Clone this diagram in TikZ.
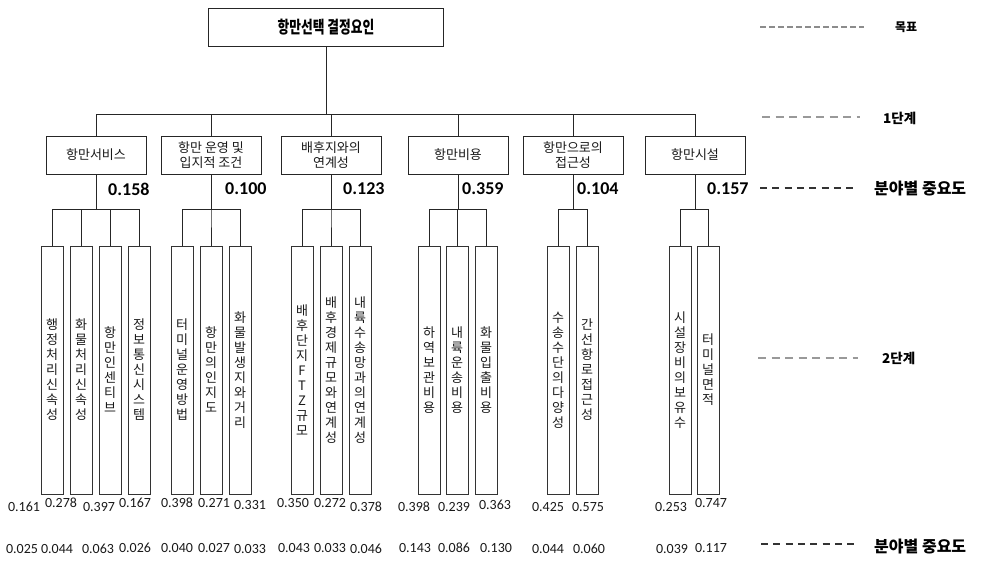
\documentclass[tikz,border=0pt]{standalone}
\usepackage{fontspec}
\usepackage{graphicx}
\setmainfont{Noto Sans CJK KR}
\newfontfamily\kr{Noto Sans CJK KR}
\newfontfamily\numf{Carlito}
\begin{document}
\begin{tikzpicture}[x=1pt,y=-1pt,
 conn/.style={draw=black!85, line width=0.9pt},
 topbox/.style={draw=black!85,line width=0.9pt, minimum width=235pt, minimum height=38pt, inner sep=0pt, font=\kr\bfseries\fontsize{17}{20}\selectfont},
 lvbox/.style={draw=black!85,line width=0.9pt,minimum width=100pt,minimum height=38pt,inner sep=0pt,align=center,font=\kr\fontsize{13}{15}\selectfont,text=black!90},
 subbox/.style={draw=black!80,line width=0.9pt,minimum width=22pt,minimum height=248pt,inner sep=0pt,align=center,font=\kr\fontsize{13}{15}\selectfont,text=black!90},
 wt/.style={anchor=west,inner sep=0pt,font=\numf\bfseries\fontsize{18}{20}\selectfont},
 nm/.style={inner sep=0pt,font=\numf\fontsize{14}{15}\selectfont,text=black!90},
 lab/.style={anchor=west,inner sep=0pt,font=\kr\bfseries\fontsize{13.5}{15}\selectfont},
 biglab/.style={anchor=west,inner sep=0pt,font=\kr\bfseries\fontsize{16}{18}\selectfont},
 gdashfine/.style={draw=black!45,line width=1.2pt,dash pattern=on 6pt off 3pt},
 gdash/.style={draw=black!40,line width=1.2pt,dash pattern=on 8pt off 5.5pt},
 ddash/.style={draw=black!80,line width=1.2pt,dash pattern=on 7pt off 5.3pt}]

\path[use as bounding box] (0,0) rectangle (989,562);

% goal
\node[topbox] (goal) at (326,27) {\scalebox{0.75}[1]{항만선택 결정요인}};

% level 1
\node[lvbox] (A) at (96,155) {항만서비스};
\node[lvbox] (B) at (211,155) {항만 운영 및\\입지적 조건};
\node[lvbox] (C) at (331,155) {배후지와의\\연계성};
\node[lvbox] (D) at (458,155) {항만비용};
\node[lvbox] (E) at (573,155) {항만으로의\\접근성};
\node[lvbox] (F) at (695,155) {항만시설};

\foreach \n in {A,B,C,D,E,F}{
  \draw[conn] (goal.south) -- ++(0,68) -| (\n.north);
}

% weights
\node[wt] (wA) at (108,189) {0.158};
\node[wt] (wB) at (225,189) {0.100};
\node[wt] (wC) at (343,189) {0.123};
\node[wt] (wD) at (462,189) {0.359};
\node[wt] (wE) at (577,189) {0.104};
\node[wt] (wF) at (707,189) {0.157};

% level 2
\node[subbox] (a1) at (52,370) {행\\정\\처\\리\\신\\속\\성};
\node[subbox] (a2) at (81,370) {화\\물\\처\\리\\신\\속\\성};
\node[subbox] (a3) at (110,370) {항\\만\\인\\센\\티\\브};
\node[subbox] (a4) at (139,370) {정\\보\\통\\신\\시\\스\\템};
\node[subbox] (b1) at (182,370) {터\\미\\널\\운\\영\\방\\법};
\node[subbox] (b2) at (211,370) {항\\만\\의\\인\\지\\도};
\node[subbox] (b3) at (240,370) {화\\물\\발\\생\\지\\와\\거\\리};
\node[subbox] (c1) at (302,370) {배\\후\\단\\지\\F\\T\\Z\\규\\모};
\node[subbox] (c2) at (331,370) {배\\후\\경\\제\\규\\모\\와\\연\\계\\성};
\node[subbox] (c3) at (360,370) {내\\륙\\수\\송\\망\\과\\의\\연\\계\\성};
\node[subbox] (d1) at (429,370) {하\\역\\보\\관\\비\\용};
\node[subbox] (d2) at (457,370) {내\\륙\\운\\송\\비\\용};
\node[subbox] (d3) at (486,370) {화\\물\\입\\출\\비\\용};
\node[subbox] (e1) at (558,370) {수\\송\\수\\단\\의\\다\\양\\성};
\node[subbox] (e2) at (587,370) {간\\선\\항\\로\\접\\근\\성};
\node[subbox] (f1) at (680,370) {시\\설\\장\\비\\의\\보\\유\\수};
\node[subbox] (f2) at (708,370) {터\\미\\널\\면\\적};

\foreach \p/\c in {A/a1,A/a2,A/a3,A/a4,B/b1,B/b2,B/b3,C/c1,C/c2,C/c3,D/d1,D/d2,D/d3,E/e1,E/e2,F/f1,F/f2}{
  \draw[conn] (\p.south) -- ++(0,35) -| (\c.north);
}

% local weights
\node[nm] (pa1) at (24,507) {0.161};
\node[nm] (pa2) at (61,503) {0.278};
\node[nm] (pa3) at (99,507) {0.397};
\node[nm] (pa4) at (135,503) {0.167};
\node[nm] (pb1) at (177,503) {0.398};
\node[nm] (pb2) at (214,503) {0.271};
\node[nm] (pb3) at (250,505) {0.331};
\node[nm] (pc1) at (293,503) {0.350};
\node[nm] (pc2) at (330,503) {0.272};
\node[nm] (pc3) at (366,507) {0.378};
\node[nm] (pd1) at (414,507) {0.398};
\node[nm] (pd2) at (454,507) {0.239};
\node[nm] (pd3) at (495,505) {0.363};
\node[nm] (pe1) at (548,507) {0.425};
\node[nm] (pe2) at (588,507) {0.575};
\node[nm] (pf1) at (671,507) {0.253};
\node[nm] (pf2) at (711,503) {0.747};

% global weights
\node[nm] (ga1) at (22,549) {0.025};
\node[nm] (ga2) at (57,549) {0.044};
\node[nm] (ga3) at (98,549) {0.063};
\node[nm] (ga4) at (135,548) {0.026};
\node[nm] (gb1) at (177,548) {0.040};
\node[nm] (gb2) at (214,548) {0.027};
\node[nm] (gb3) at (250,549) {0.033};
\node[nm] (gc1) at (294,548) {0.043};
\node[nm] (gc2) at (330,548) {0.033};
\node[nm] (gc3) at (366,549) {0.046};
\node[nm] (gd1) at (415,548) {0.143};
\node[nm] (gd2) at (454,548) {0.086};
\node[nm] (gd3) at (496,548) {0.130};
\node[nm] (ge1) at (548,549) {0.044};
\node[nm] (ge2) at (589,549) {0.060};
\node[nm] (gf1) at (672,549) {0.039};
\node[nm] (gf2) at (711,548) {0.117};

% right side labels
\node[lab,font=\kr\bfseries\fontsize{12}{14}\selectfont] (lgoal) at (895,27) {목표};
\node[lab] (l1) at (883,118) {1단계};
\node[lab] (l2) at (882,358) {2단계};
\node[biglab] (lw1) at (874,189) {분야별 중요도};
\node[biglab] (lw2) at (874,547) {분야별 중요도};

\coordinate (dg0) at (760,27);  \coordinate (dg1) at (864,27);
\coordinate (d10) at (762,117); \coordinate (d11) at (860,117);
\coordinate (d20) at (758,358); \coordinate (d21) at (858,358);
\coordinate (dw0) at (760,188); \coordinate (dw1) at (855,188);
\coordinate (dv0) at (761,544); \coordinate (dv1) at (858,544);
\draw[gdashfine] (dg0) -- (dg1);
\draw[gdash] (d10) -- (d11);
\draw[gdash] (d20) -- (d21);
\draw[ddash] (dw0) -- (dw1);
\draw[ddash] (dv0) -- (dv1);
\end{tikzpicture}
\end{document}
